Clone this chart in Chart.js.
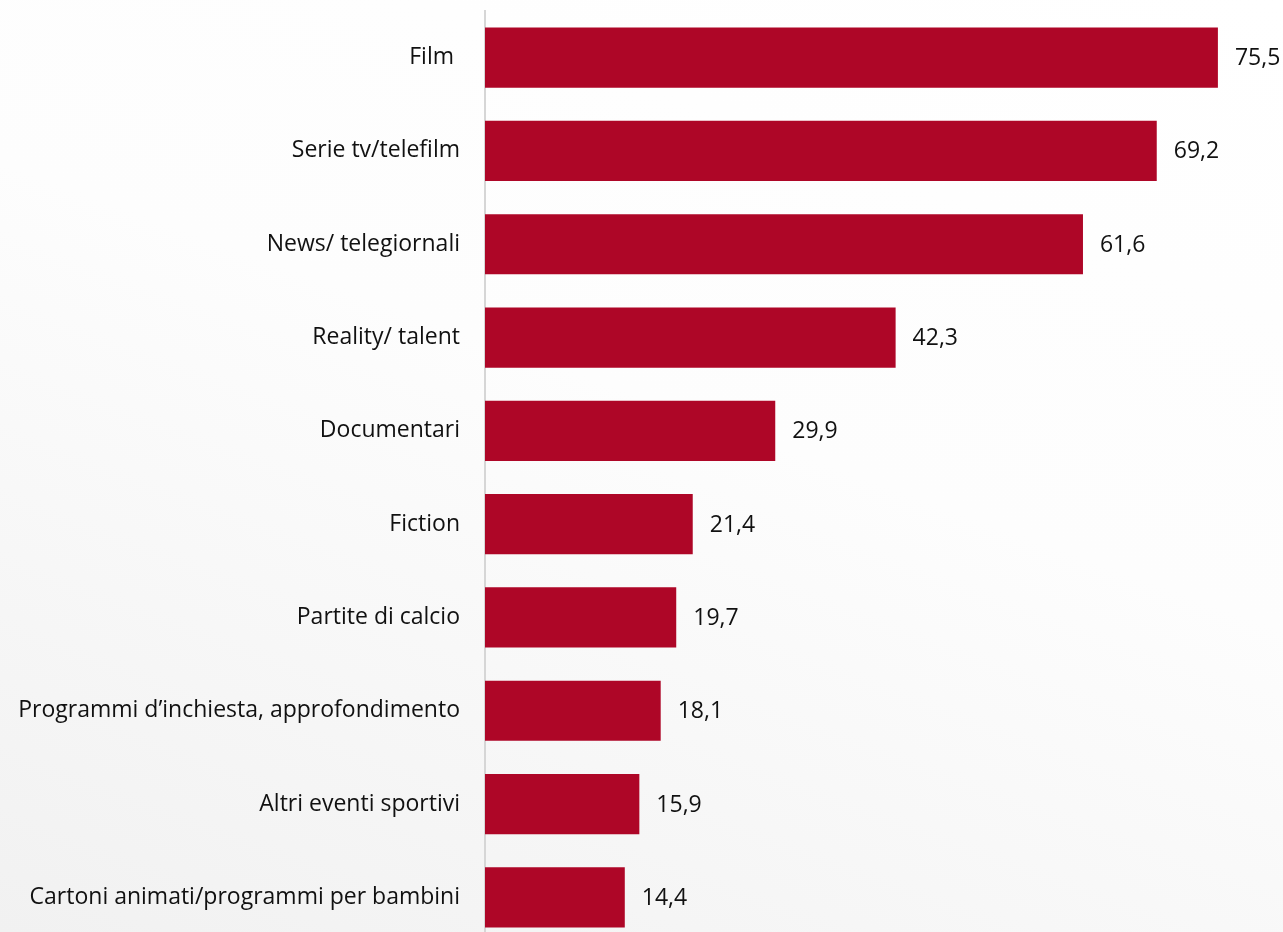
<!DOCTYPE html>
<html lang="it">
<head>
<meta charset="utf-8">
<title>Generi guardati</title>
<script src="https://cdn.jsdelivr.net/npm/chart.js@4"></script>
<style>
  html, body { margin: 0; padding: 0; overflow: hidden; }
  body {
    width: 1283px; height: 932px;
    background: linear-gradient(200deg, #ffffff 0%, #fdfdfd 45%, #f1f1f1 100%);
  }
  #wrap { position: absolute; left: 0; top: 0; width: 1283px; height: 944px; }
</style>
</head>
<body>
<div id="wrap"><canvas id="genreChart"></canvas></div>
<script>
const categories = [
  'Film ',
  'Serie tv/telefilm',
  'News/ telegiornali',
  'Reality/ talent',
  'Documentari',
  'Fiction',
  'Partite di calcio',
  'Programmi d\u2019inchiesta, approfondimento',
  'Altri eventi sportivi',
  'Cartoni animati/programmi per bambini'
];
const values = [75.5, 69.2, 61.6, 42.3, 29.9, 21.4, 19.7, 18.1, 15.9, 14.4];
const valueLabels = ['75,5', '69,2', '61,6', '42,3', '29,9', '21,4', '19,7', '18,1', '15,9', '14,4'];

const fontFamily = '"Open Sans", sans-serif';
const fontSize = 23;

// writes the value to the right of each bar
const barValues = {
  id: 'barValues',
  afterDatasetsDraw(chart) {
    const ctx = chart.ctx;
    const meta = chart.getDatasetMeta(0);
    ctx.save();
    ctx.font = fontSize + 'px ' + fontFamily;
    ctx.fillStyle = '#111';
    ctx.textAlign = 'left';
    ctx.textBaseline = 'middle';
    meta.data.forEach((bar, i) => {
      ctx.fillText(valueLabels[i], bar.x + 17, bar.y + 1);
    });
    ctx.restore();
  }
};

new Chart('genreChart', {
  type: 'bar',
  data: {
    labels: categories,
    datasets: [{
      data: values,
      backgroundColor: '#ae0627',
      borderWidth: 0,
      barPercentage: 0.645,
      categoryPercentage: 1
    }]
  },
  options: {
    indexAxis: 'y',
    responsive: true,
    maintainAspectRatio: false,
    animation: false,
    layout: { padding: { top: 11, right: 2, bottom: 0, left: 0 } },
    plugins: { legend: { display: false }, tooltip: { enabled: false } },
    scales: {
      x: {
        display: false,
        min: 0,
        max: 82
      },
      y: {
        afterFit(scale) {
          scale.width = 485;
          scale.paddingTop = 0;
          scale.paddingBottom = 0;
        },
        grid: { display: false, drawTicks: false },
        border: { display: true, color: '#d6d6d6', width: 2 },
        ticks: {
          color: '#111',
          padding: 25,
          font: { family: fontFamily, size: fontSize }
        }
      }
    }
  },
  plugins: [barValues]
});
</script>
</body>
</html>
